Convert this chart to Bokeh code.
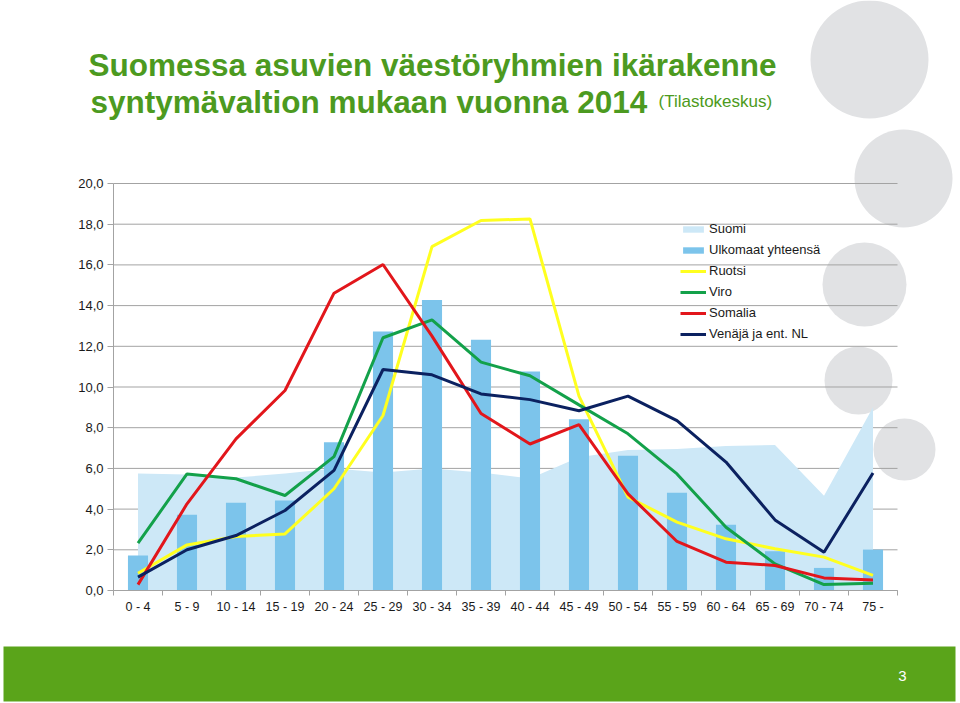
from bokeh.plotting import figure
from bokeh.models import (Range1d, LinearAxis, FixedTicker, Legend, LegendItem,
                          BoxAnnotation, Label, ColumnDataSource)
from bokeh.embed import file_html
from bokeh.resources import INLINE

# ---------------- data ----------------
categories = ["0 - 4", "5 - 9", "10 - 14", "15 - 19", "20 - 24", "25 - 29", "30 - 34",
              "35 - 39", "40 - 44", "45 - 49", "50 - 54", "55 - 59", "60 - 64",
              "65 - 69", "70 - 74", "75 -"]
suomi = [5.75, 5.7, 5.55, 5.75, 6.0, 5.8, 6.0, 5.8, 5.5, 6.55, 6.9, 6.95, 7.1, 7.15, 4.65, 9.0]
ulkomaat = [1.72, 3.72, 4.31, 4.42, 7.29, 12.73, 14.27, 12.32, 10.76, 8.42, 6.62, 4.8, 3.23, 1.93, 1.11, 2.01]
ruotsi = [0.85, 2.24, 2.65, 2.78, 5.0, 8.6, 16.9, 18.18, 18.26, 9.55, 4.59, 3.36, 2.54, 2.05, 1.64, 0.74]
viro = [2.33, 5.73, 5.49, 4.67, 6.58, 12.42, 13.3, 11.22, 10.55, 9.12, 7.7, 5.73, 3.11, 1.31, 0.29, 0.36]
somalia = [0.29, 4.26, 7.45, 9.83, 14.61, 16.02, 12.5, 8.7, 7.2, 8.15, 4.75, 2.41, 1.39, 1.23, 0.62, 0.52]
venaja = [0.66, 2.0, 2.7, 3.93, 5.9, 10.86, 10.6, 9.66, 9.38, 8.83, 9.55, 8.35, 6.31, 3.47, 1.88, 5.77]
series_names = ["Suomi", "Ulkomaat yhteensä", "Ruotsi", "Viro", "Somalia", "Venäjä ja ent. NL"]
y_ticks = [0, 2, 4, 6, 8, 10, 12, 14, 16, 18, 20]
title_line1 = "Suomessa asuvien väestöryhmien ikärakenne"
title_line2 = "syntymävaltion mukaan vuonna 2014"
title_source = "(Tilastokeskus)"
page_number = "3"

# ---------------- layout (pixels) ----------------
W, H = 960, 703
PLOT_LEFT, PLOT_RIGHT = 113, 897      # px of category axis extent
PLOT_ZERO, PLOT_TOP = 590, 183        # px from top of value 0 and value 20
n = len(categories)
cat_w = (PLOT_RIGHT - PLOT_LEFT) / n
px_per_unit = (PLOT_ZERO - PLOT_TOP) / (y_ticks[-1] - y_ticks[0])
x0_px = PLOT_LEFT + cat_w / 2
x_start = -x0_px / cat_w
x_end = (W - x0_px) / cat_w
y_bottom_px = H - PLOT_ZERO
y_start = -y_bottom_px / px_per_unit
y_end = (H - y_bottom_px) / px_per_unit

FONT = "Liberation Sans"
GRID = "#a3a3a3"
C_AREA = "#cde8f7"
C_BAR = "#7cc4eb"
C_YEL = "#ffff1f"
C_GRN = "#13a14a"
C_RED = "#e2161b"
C_NAVY = "#0b2160"
C_CIRC = "#e1e2e4"
C_TITLE = "#4c9a20"
C_FOOT = "#5aa41a"

p = figure(width=W, height=H, output_backend="svg", toolbar_location=None,
           x_range=Range1d(x_start, x_end), y_range=Range1d(y_start, y_end),
           x_axis_type=None, y_axis_type=None,
           min_border=0, min_border_left=0, min_border_right=0,
           min_border_top=0, min_border_bottom=0)
p.outline_line_color = None
p.background_fill_color = "white"
p.border_fill_color = "white"

# decorative circles (background); (center x, center y from top, radius)
circles = [(869, 59, 59), (903, 178, 49), (864, 284, 42), (858, 380, 34), (904, 449, 31)]
for cx, cy, r in circles:
    yb = H - cy
    p.add_layout(BoxAnnotation(left=cx - r, right=cx + r, bottom=yb - r, top=yb + r,
                               left_units="screen", right_units="screen",
                               bottom_units="screen", top_units="screen",
                               border_radius=r, fill_color=C_CIRC, fill_alpha=1,
                               line_color=None, level="underlay"))

# footer band
p.add_layout(BoxAnnotation(left=3, right=955, bottom=H - 701, top=H - 646,
                           left_units="screen", right_units="screen",
                           bottom_units="screen", top_units="screen",
                           fill_color=C_FOOT, fill_alpha=1, line_color=None,
                           level="underlay"))
p.add_layout(Label(x=902, y=H - 675, x_units="screen", y_units="screen", text=page_number,
                   text_font=FONT, text_font_size="15px", text_color="white",
                   text_align="center", text_baseline="middle"))

# titles
p.add_layout(Label(x=88, y=H - 64, x_units="screen", y_units="screen", text=title_line1,
                   text_font=FONT, text_font_size="31.5px", text_font_style="bold",
                   text_color=C_TITLE, text_baseline="alphabetic"))
p.add_layout(Label(x=90, y=H - 101, x_units="screen", y_units="screen", text=title_line2,
                   text_font=FONT, text_font_size="31.5px", text_font_style="bold",
                   text_color=C_TITLE, text_baseline="alphabetic"))
p.add_layout(Label(x=658, y=H - 101, x_units="screen", y_units="screen", text=title_source,
                   text_font=FONT, text_font_size="17px",
                   text_color=C_TITLE, text_baseline="alphabetic"))

xs = list(range(n))
# gridlines
p.segment(x0=[-0.5] * len(y_ticks), x1=[n - 0.5] * len(y_ticks), y0=y_ticks, y1=y_ticks,
          line_color=GRID, line_width=1)

src = ColumnDataSource(dict(x=xs, suomi=suomi, ulkomaat=ulkomaat, ruotsi=ruotsi,
                            viro=viro, somalia=somalia, venaja=venaja))
r_area = p.varea(x="x", y1=0, y2="suomi", source=src, fill_color=C_AREA, fill_alpha=1)
r_bar = p.vbar(x="x", top="ulkomaat", bottom=0, width=0.41, source=src,
               fill_color=C_BAR, line_color=None)
r_ruo = p.line(x="x", y="ruotsi", source=src, line_color=C_YEL, line_width=3)
r_vir = p.line(x="x", y="viro", source=src, line_color=C_GRN, line_width=3)
r_som = p.line(x="x", y="somalia", source=src, line_color=C_RED, line_width=3)
r_ven = p.line(x="x", y="venaja", source=src, line_color=C_NAVY, line_width=3)

# y axis
yax = LinearAxis(fixed_location=-0.5, bounds=(y_ticks[0], y_ticks[-1]),
                 ticker=FixedTicker(ticks=y_ticks),
                 major_label_overrides={t: f"{t:.1f}".replace(".", ",") for t in y_ticks})
yax.axis_line_color = GRID
yax.major_tick_line_color = GRID
yax.major_tick_out = 6
yax.major_tick_in = 0
yax.minor_tick_line_color = None
yax.major_label_standoff = 4
yax.major_label_text_font = FONT
yax.major_label_text_font_size = "13px"
yax.major_label_text_color = "#1a1a1a"
p.add_layout(yax, "left")

# x axis: line with boundary ticks
bounds_ticks = [i - 0.5 for i in range(n + 1)]
xax = LinearAxis(fixed_location=0, bounds=(-0.5, n - 0.5),
                 ticker=FixedTicker(ticks=bounds_ticks),
                 major_label_overrides={t: "" for t in bounds_ticks})
xax.axis_line_color = GRID
xax.major_tick_line_color = GRID
xax.major_tick_out = 5
xax.major_tick_in = 0
xax.minor_tick_line_color = None
p.add_layout(xax, "below")

# x axis: category labels
xlab = LinearAxis(fixed_location=0, ticker=FixedTicker(ticks=xs),
                  major_label_overrides={i: c for i, c in enumerate(categories)})
xlab.axis_line_color = None
xlab.major_tick_line_color = None
xlab.minor_tick_line_color = None
xlab.major_tick_out = 0
xlab.major_tick_in = 0
xlab.major_label_standoff = 9
xlab.major_label_text_font = FONT
xlab.major_label_text_font_size = "12.5px"
xlab.major_label_text_color = "#1a1a1a"
p.add_layout(xlab, "below")

legend = Legend(items=[LegendItem(label=nm, renderers=[r]) for nm, r in
                       zip(series_names, [r_area, r_bar, r_ruo, r_vir, r_som, r_ven])],
                location=(680, 359), orientation="vertical",
                glyph_width=26, glyph_height=8, label_height=21, label_standoff=3,
                spacing=0, padding=0, margin=0,
                background_fill_alpha=0, border_line_color=None,
                label_text_font=FONT, label_text_font_size="13px",
                label_text_color="#1a1a1a")
p.add_layout(legend)

open("out.html", "w").write(file_html(p, INLINE))
